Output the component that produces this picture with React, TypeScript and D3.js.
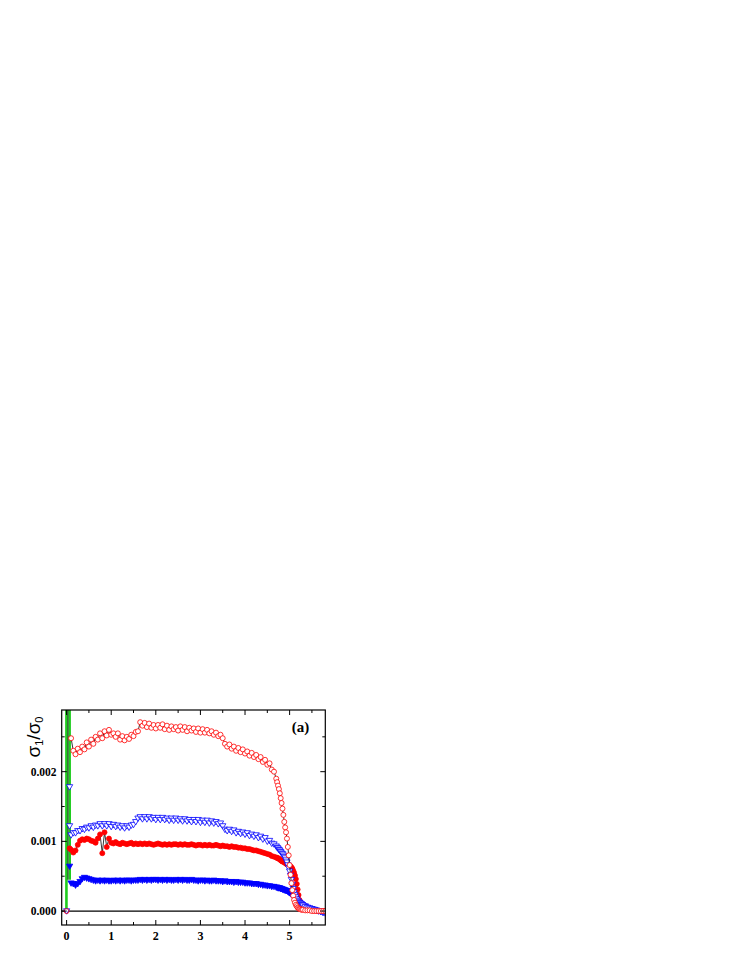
import React from "react";
import * as d3 from "d3";

// x positions (tip position along the sample, arbitrary units)
const xs = [
  0.10, 0.15, 0.20, 0.25, 0.30, 0.35, 0.40, 0.45, 0.50, 0.55,
  0.60, 0.65, 0.70, 0.75, 0.80, 0.85, 0.90, 0.95, 1.00, 1.05,
  1.10, 1.15, 1.20, 1.25, 1.30, 1.35, 1.40, 1.45, 1.50, 1.55,
  1.60, 1.65, 1.70, 1.75, 1.80, 1.85, 1.90, 1.95, 2.00, 2.05,
  2.10, 2.15, 2.20, 2.25, 2.30, 2.35, 2.40, 2.45, 2.50, 2.55,
  2.60, 2.65, 2.70, 2.75, 2.80, 2.85, 2.90, 2.95, 3.00, 3.05,
  3.10, 3.15, 3.20, 3.25, 3.30, 3.35, 3.40, 3.45, 3.50, 3.55,
  3.60, 3.65, 3.70, 3.75, 3.80, 3.85, 3.90, 3.95, 4.00, 4.05,
  4.10, 4.15, 4.20, 4.25, 4.30, 4.35, 4.40, 4.45, 4.50, 4.55,
  4.60, 4.65,
  4.70, 4.72, 4.74, 4.76, 4.78, 4.80, 4.82, 4.84, 4.86, 4.88,
  4.90, 4.92, 4.94, 4.96, 4.98, 5.00, 5.02, 5.04, 5.06, 5.08,
  5.10, 5.12, 5.14, 5.16, 5.18, 5.20, 5.22, 5.24, 5.26, 5.28,
  5.30,
  5.35, 5.40, 5.45, 5.50, 5.55, 5.60, 5.65, 5.70, 5.75, 5.80,
];

// values in units of 1e-3
const redOpen = [
  2.48, 2.30, 2.25, 2.33, 2.28, 2.36, 2.32, 2.42, 2.36, 2.46,
  2.40, 2.50, 2.46, 2.55, 2.48, 2.58, 2.52, 2.60, 2.53, 2.55,
  2.50, 2.55, 2.46, 2.51, 2.45, 2.50, 2.47, 2.53, 2.51, 2.57,
  2.58, 2.71, 2.66, 2.70, 2.64, 2.69, 2.63, 2.67, 2.62, 2.67,
  2.63, 2.68, 2.61, 2.66, 2.60, 2.65, 2.61, 2.64, 2.59, 2.65,
  2.60, 2.64, 2.58, 2.63, 2.59, 2.62, 2.57, 2.62, 2.56, 2.61,
  2.56, 2.60, 2.55, 2.58, 2.53, 2.56, 2.51, 2.53, 2.48, 2.40,
  2.36, 2.39, 2.33, 2.36, 2.30, 2.34, 2.28, 2.32, 2.26, 2.29,
  2.23, 2.27, 2.21, 2.24, 2.18, 2.21, 2.14, 2.17, 2.10, 2.12,
  2.03, 2.00,
  1.90, 1.85, 1.80, 1.75, 1.69, 1.62, 1.55, 1.47, 1.38, 1.28,
  1.20, 1.13, 1.04, 0.92, 0.80, 0.66, 0.52, 0.40, 0.30, 0.22,
  0.16, 0.12, 0.09, 0.07, 0.05, 0.04, 0.03, 0.03, 0.02, 0.02,
  0.02,
  0.01, 0.01, 0.01, 0.00, 0.00, 0.00, 0.00, 0.00, 0.00, 0.00,
];

const blueOpen = [
  1.09, 1.12, 1.12, 1.15, 1.15, 1.18, 1.17, 1.20, 1.19, 1.22,
  1.20, 1.23, 1.22, 1.25, 1.22, 1.25, 1.22, 1.25, 1.21, 1.24,
  1.21, 1.23, 1.20, 1.22, 1.19, 1.22, 1.20, 1.23, 1.24, 1.28,
  1.33, 1.35, 1.32, 1.35, 1.32, 1.35, 1.32, 1.34, 1.31, 1.34,
  1.31, 1.34, 1.31, 1.33, 1.30, 1.33, 1.30, 1.33, 1.30, 1.32,
  1.29, 1.32, 1.29, 1.31, 1.28, 1.31, 1.28, 1.31, 1.27, 1.30,
  1.27, 1.30, 1.26, 1.29, 1.26, 1.28, 1.25, 1.26, 1.22, 1.17,
  1.15, 1.17, 1.14, 1.16, 1.12, 1.14, 1.11, 1.13, 1.10, 1.12,
  1.08, 1.10, 1.07, 1.09, 1.05, 1.07, 1.03, 1.05, 1.00, 1.01,
  0.97, 0.96,
  0.93, 0.91, 0.90, 0.88, 0.87, 0.85, 0.83, 0.82, 0.80, 0.78,
  0.76, 0.73, 0.70, 0.66, 0.62, 0.57, 0.51, 0.45, 0.38, 0.32,
  0.27, 0.23, 0.20, 0.17, 0.15, 0.13, 0.12, 0.11, 0.10, 0.09,
  0.08,
  0.06, 0.05, 0.04, 0.03, 0.02, 0.01, 0.00, -0.01, -0.02, -0.03,
];

const redFilled = [
  0.88, 0.84, 0.87, 0.95, 1.01, 1.03, 1.02, 1.04, 1.03, 1.01,
  1.00, 0.98, 1.04, 1.10, 0.83, 1.13, 0.92, 1.04, 0.98, 0.97,
  0.99, 0.97, 0.96, 0.98, 0.97, 0.96, 0.97, 0.98, 0.96, 0.97,
  0.96, 0.97, 0.96, 0.97, 0.96, 0.97, 0.96, 0.95, 0.96, 0.97,
  0.96, 0.95, 0.96, 0.95, 0.96, 0.95, 0.96, 0.96, 0.95, 0.96,
  0.95, 0.96, 0.95, 0.95, 0.96, 0.95, 0.94, 0.95, 0.95, 0.94,
  0.95, 0.94, 0.95, 0.94, 0.94, 0.95, 0.94, 0.93, 0.94, 0.93,
  0.93, 0.92, 0.93, 0.92, 0.92, 0.91, 0.91, 0.90, 0.90, 0.89,
  0.89, 0.88, 0.87, 0.87, 0.86, 0.85, 0.84, 0.83, 0.82, 0.81,
  0.79, 0.78,
  0.77, 0.76, 0.76, 0.75, 0.74, 0.73, 0.72, 0.71, 0.71, 0.70,
  0.69, 0.68, 0.67, 0.67, 0.66, 0.65, 0.64, 0.63, 0.61, 0.58,
  0.55, 0.51, 0.46, 0.39, 0.31, 0.23, 0.16, 0.12, 0.09, 0.07,
  0.06,
  0.05, 0.04, 0.03, 0.02, 0.01, 0.01, 0.00, 0.00, 0.00, 0.00,
];

const blueFilled = [
  0.40, 0.39, 0.37, 0.39, 0.42, 0.46, 0.48, 0.47, 0.46, 0.45,
  0.44, 0.43, 0.44, 0.43, 0.44, 0.43, 0.44, 0.43, 0.43, 0.44,
  0.43, 0.44, 0.43, 0.44, 0.43, 0.44, 0.44, 0.43, 0.44, 0.44,
  0.44, 0.45, 0.44, 0.45, 0.44, 0.45, 0.44, 0.45, 0.45, 0.44,
  0.45, 0.44, 0.45, 0.44, 0.45, 0.44, 0.44, 0.45, 0.44, 0.45,
  0.44, 0.45, 0.44, 0.44, 0.45, 0.44, 0.44, 0.43, 0.44, 0.44,
  0.43, 0.44, 0.43, 0.43, 0.44, 0.43, 0.43, 0.43, 0.42, 0.43,
  0.42, 0.42, 0.42, 0.41, 0.42, 0.41, 0.41, 0.41, 0.40, 0.40,
  0.40, 0.39, 0.39, 0.39, 0.38, 0.38, 0.37, 0.37, 0.36, 0.36,
  0.35, 0.35,
  0.34, 0.34, 0.33, 0.33, 0.33, 0.32, 0.32, 0.31, 0.31, 0.30,
  0.30, 0.29, 0.29, 0.28, 0.27, 0.26, 0.25, 0.24, 0.23, 0.22,
  0.21, 0.19, 0.18, 0.16, 0.15, 0.13, 0.12, 0.11, 0.10, 0.09,
  0.08,
  0.07, 0.05, 0.04, 0.03, 0.02, 0.01, 0.00, -0.01, -0.02, -0.02,
];

// first few points near the origin
const redOpenStartX = [0.0];
const redOpenStartY = [0.0];
const blueOpenStartX = [0.0, 0.067, 0.067];
const blueOpenStartY = [0.0, 1.78, 1.22];
const redFilledStartX = [0.067];
const redFilledStartY = [0.9];
const blueFilledStartX = [0.067];
const blueFilledStartY = [0.64];

// green spike at the origin
const greenX = [-0.004, -0.004, 0.066, 0.07];
const greenY = [0.0, 4.0, 4.0, 0.45];
const spikeX = [0.03, 0.03];
const spikeY = [4.0, 0.45];

const xTicksMajor = [0, 1, 2, 3, 4, 5];
const xTicksMinor = [0.5, 1.5, 2.5, 3.5, 4.5, 5.5];
const yTicksMajor = [0, 1, 2];
const yTickLabels = ["0.000", "0.001", "0.002"];
const yTicksMinor = [0.5, 1.5, 2.5];

const RED = "#ff0000";
const BLUE = "#0000ff";
const GREEN = "#1ecc1e";
const SERIF = "Liberation Serif, Times New Roman, Times, DejaVu Serif, serif";
const SANS = "Liberation Sans, Arial, Helvetica, sans-serif";

export default function App() {
  const L = 61.7, R = 325.3, T = 710, B = 925;
  const x = d3.scaleLinear().domain([-0.11, 5.8]).range([L, R]);
  const y = d3.scaleLinear().domain([-0.2, 2.885]).range([B, T]);

  const line = d3
    .line<[number, number]>()
    .x((d) => x(d[0]))
    .y((d) => y(d[1]));

  const pts = (xa: number[], ya: number[]) =>
    xa.map((v, i) => [v, ya[i]] as [number, number]);

  const ro = pts(xs, redOpen);
  const bo = pts(xs, blueOpen);
  const rf = pts(xs, redFilled);
  const bf = pts(xs, blueFilled);

  const tri = d3.symbol().type(d3.symbolTriangle).size(17)()!;

  const circles = (data: [number, number][], fill: string, stroke: string, key: string) =>
    data.map((d, i) => (
      <circle
        key={key + i}
        cx={x(d[0])}
        cy={y(d[1])}
        r={2.5}
        fill={fill}
        stroke={stroke}
        strokeWidth={0.8}
      />
    ));

  const tris = (data: [number, number][], fill: string, stroke: string, key: string) =>
    data.map((d, i) => (
      <path
        key={key + i}
        d={tri}
        transform={`translate(${x(d[0])},${y(d[1]) - 0.5}) rotate(180)`}
        fill={fill}
        stroke={stroke}
        strokeWidth={0.8}
      />
    ));

  const majorLen = 5;
  const minorLen = 3;
  const serifBold = { fontFamily: SERIF, fontWeight: 700 } as React.CSSProperties;

  return (
    <svg
      width={747}
      height={967}
      style={{ position: "absolute", left: 0, top: 0, background: "#fff" }}
    >
      <defs>
        <clipPath id="plotclip">
          <rect x={L} y={T} width={R - L} height={B - T} />
        </clipPath>
      </defs>
      <rect x={0} y={0} width={747} height={967} fill="#fff" />

      <g clipPath="url(#plotclip)">
        {/* zero line */}
        <line x1={L} x2={R} y1={y(0)} y2={y(0)} stroke="#000" strokeWidth={1.2} />
        {/* green spike */}
        <path d={line(pts(greenX, greenY))!} fill="none" stroke={GREEN} strokeWidth={2.6} />
        <path d={line(pts(spikeX, spikeY))!} fill="none" stroke="#000" strokeWidth={0.8} />

        {/* blue filled */}
        {tris(pts(blueFilledStartX, blueFilledStartY), BLUE, BLUE, "bfs")}
        {tris(bf, BLUE, BLUE, "bf")}

        {/* red filled */}
        <path d={line(rf)!} fill="none" stroke="#000" strokeWidth={0.8} />
        {circles(pts(redFilledStartX, redFilledStartY), RED, RED, "rfs")}
        {circles(rf, RED, RED, "rf")}

        {/* blue open */}
        {tris(pts(blueOpenStartX, blueOpenStartY), "#fff", BLUE, "bos")}
        {tris(bo, "#fff", BLUE, "bo")}

        {/* red open */}
        <path d={line(ro)!} fill="none" stroke="#000" strokeWidth={0.8} />
        {circles(pts(redOpenStartX, redOpenStartY), "none", RED, "ros")}
        {circles(ro, "#fff", RED, "ro")}
      </g>

      {/* frame */}
      <rect x={L} y={T} width={R - L} height={B - T} fill="none" stroke="#000" strokeWidth={1.2} />

      {/* x ticks */}
      {xTicksMajor.map((t) => (
        <g key={"xt" + t}>
          <line x1={x(t)} x2={x(t)} y1={B} y2={B - majorLen} stroke="#000" strokeWidth={1} />
          <line x1={x(t)} x2={x(t)} y1={T} y2={T + majorLen} stroke="#000" strokeWidth={1} />
          <text x={x(t)} y={940} textAnchor="middle" fontSize={12} style={serifBold}>
            {t}
          </text>
        </g>
      ))}
      {xTicksMinor.map((t) => (
        <g key={"xm" + t}>
          <line x1={x(t)} x2={x(t)} y1={B} y2={B - minorLen} stroke="#000" strokeWidth={1} />
          <line x1={x(t)} x2={x(t)} y1={T} y2={T + minorLen} stroke="#000" strokeWidth={1} />
        </g>
      ))}

      {/* y ticks */}
      {yTicksMajor.map((t, i) => (
        <g key={"yt" + t}>
          <line x1={L} x2={L + majorLen} y1={y(t)} y2={y(t)} stroke="#000" strokeWidth={1} />
          <line x1={R} x2={R - majorLen} y1={y(t)} y2={y(t)} stroke="#000" strokeWidth={1} />
          <text
            x={56.5}
            y={y(t)}
            dy="0.35em"
            textAnchor="end"
            fontSize={11.5}
            style={serifBold}
          >
            {yTickLabels[i]}
          </text>
        </g>
      ))}
      {yTicksMinor.map((t) => (
        <g key={"ym" + t}>
          <line x1={L} x2={L + minorLen} y1={y(t)} y2={y(t)} stroke="#000" strokeWidth={1} />
          <line x1={R} x2={R - minorLen} y1={y(t)} y2={y(t)} stroke="#000" strokeWidth={1} />
        </g>
      ))}

      {/* y axis title */}
      <text
        transform="translate(40,737) rotate(-90)"
        textAnchor="middle"
        fontSize={19}
        style={{ fontFamily: SANS, fontWeight: 400 }}
      >
        σ<tspan fontSize={11} dy={3}>1</tspan>
        <tspan dy={-3}>/σ</tspan>
        <tspan fontSize={11} dy={3}>0</tspan>
      </text>

      {/* panel label */}
      <text x={300.5} y={732} textAnchor="middle" fontSize={15} style={serifBold}>
        (a)
      </text>
    </svg>
  );
}
